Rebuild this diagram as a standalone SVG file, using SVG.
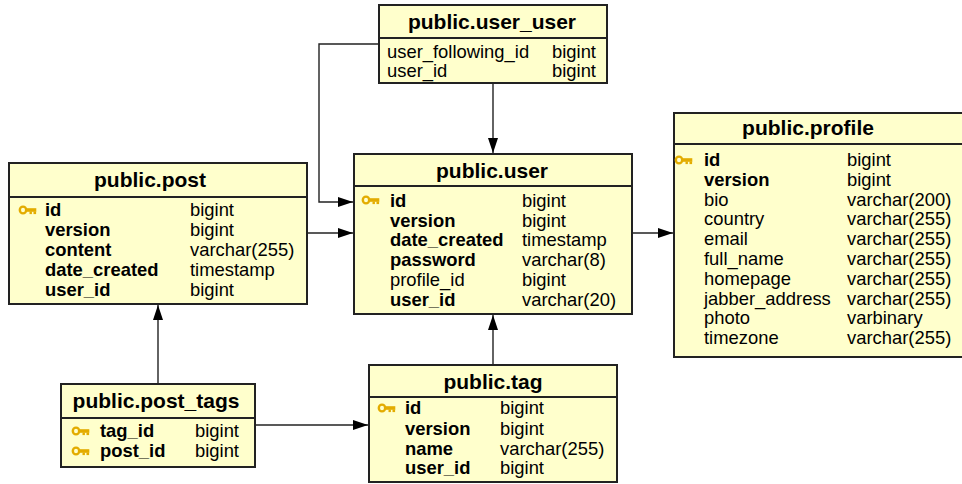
<svg xmlns="http://www.w3.org/2000/svg" xmlns:xlink="http://www.w3.org/1999/xlink" width="962" height="484" viewBox="0 0 962 484">
<style>
.box{fill:#FFFFCC;stroke:#222;stroke-width:2}
.sep{stroke:#222;stroke-width:2}
.hd{font-family:"Liberation Sans",Arial,sans-serif;font-size:21px;font-weight:bold;fill:#000;text-anchor:middle}
.b{font-family:"Liberation Sans",Arial,sans-serif;font-size:18.4px;font-weight:bold;fill:#000}
.r{font-family:"Liberation Sans",Arial,sans-serif;font-size:18.4px;fill:#000}
.cn{fill:none;stroke:#222;stroke-width:1.4}
</style>
<defs>
<marker id="arr" markerUnits="userSpaceOnUse" markerWidth="16" markerHeight="11" refX="15" refY="5" orient="auto">
<path d="M0,0 L15,5 L0,10 z" fill="#000"/>
</marker>
<g id="key">
<ellipse cx="4" cy="0" rx="3.2" ry="3.4" fill="none" stroke="#E3AC00" stroke-width="2.4"/>
<rect x="6.8" y="-1.8" width="10.5" height="3.6" fill="#E3AC00"/>
<rect x="10.5" y="1.5" width="2.4" height="2.6" fill="#E3AC00"/>
<rect x="14.5" y="1.5" width="2.6" height="2.6" fill="#E3AC00"/>
</g>
</defs>

<g id="connectors">
<path class="cn" d="M493,83 V153" marker-end="url(#arr)"/>
<path class="cn" d="M379,44 H319 V202 H353" marker-end="url(#arr)"/>
<path class="cn" d="M307,233 H353" marker-end="url(#arr)"/>
<path class="cn" d="M632,233 H673" marker-end="url(#arr)"/>
<path class="cn" d="M158,384 V305" marker-end="url(#arr)"/>
<path class="cn" d="M255,425 H368" marker-end="url(#arr)"/>
<path class="cn" d="M493,365 V315" marker-end="url(#arr)"/>
</g>

<g id="user_user">
<rect class="box" x="379" y="5" width="228" height="78"/>
<line class="sep" x1="379" y1="38" x2="607" y2="38"/>
<text class="hd" x="492" y="29">public.user_user</text>
<text class="r" x="387" y="58">user_following_id</text><text class="r" x="552" y="58">bigint</text>
<text class="r" x="387" y="77">user_id</text><text class="r" x="552" y="77">bigint</text>
</g>

<g id="user">
<rect class="box" x="354" y="154" width="278" height="160"/>
<line class="sep" x1="354" y1="186" x2="632" y2="186"/>
<text class="hd" x="492" y="178">public.user</text>
<use xlink:href="#key" x="362" y="200"/>
<text class="b" x="390" y="207">id</text><text class="r" x="522" y="207">bigint</text>
<text class="b" x="390" y="226.5">version</text><text class="r" x="522" y="226.5">bigint</text>
<text class="b" x="390" y="246">date_created</text><text class="r" x="522" y="246">timestamp</text>
<text class="b" x="390" y="266">password</text><text class="r" x="522" y="266">varchar(8)</text>
<text class="r" x="390" y="286">profile_id</text><text class="r" x="522" y="286">bigint</text>
<text class="b" x="390" y="306">user_id</text><text class="r" x="522" y="306">varchar(20)</text>
</g>

<g id="post">
<rect class="box" x="9" y="163" width="298" height="141"/>
<line class="sep" x1="9" y1="197" x2="307" y2="197"/>
<text class="hd" x="150" y="187">public.post</text>
<use xlink:href="#key" x="19" y="210"/>
<text class="b" x="45" y="216">id</text><text class="r" x="190" y="216">bigint</text>
<text class="b" x="45" y="236">version</text><text class="r" x="190" y="236">bigint</text>
<text class="b" x="45" y="256">content</text><text class="r" x="190" y="256">varchar(255)</text>
<text class="b" x="45" y="276">date_created</text><text class="r" x="190" y="276">timestamp</text>
<text class="b" x="45" y="296">user_id</text><text class="r" x="190" y="296">bigint</text>
</g>

<g id="profile">
<rect class="box" x="674" y="113" width="300" height="244"/>
<line class="sep" x1="674" y1="144" x2="974" y2="144"/>
<text class="hd" x="808" y="135">public.profile</text>
<use xlink:href="#key" x="675" y="160"/>
<text class="b" x="704" y="166">id</text><text class="r" x="847" y="166">bigint</text>
<text class="b" x="704" y="186">version</text><text class="r" x="847" y="186">bigint</text>
<text class="r" x="704" y="205.5">bio</text><text class="r" x="847" y="205.5">varchar(200)</text>
<text class="r" x="704" y="225">country</text><text class="r" x="847" y="225">varchar(255)</text>
<text class="r" x="704" y="245">email</text><text class="r" x="847" y="245">varchar(255)</text>
<text class="r" x="704" y="265">full_name</text><text class="r" x="847" y="265">varchar(255)</text>
<text class="r" x="704" y="285">homepage</text><text class="r" x="847" y="285">varchar(255)</text>
<text class="r" x="704" y="304.5">jabber_address</text><text class="r" x="847" y="304.5">varchar(255)</text>
<text class="r" x="704" y="324">photo</text><text class="r" x="847" y="324">varbinary</text>
<text class="r" x="704" y="344">timezone</text><text class="r" x="847" y="344">varchar(255)</text>
</g>

<g id="tag">
<rect class="box" x="369" y="365" width="248" height="117"/>
<line class="sep" x1="369" y1="397" x2="617" y2="397"/>
<text class="hd" x="493" y="389">public.tag</text>
<use xlink:href="#key" x="378" y="408"/>
<text class="b" x="405" y="414">id</text><text class="r" x="500" y="414">bigint</text>
<text class="b" x="405" y="435">version</text><text class="r" x="500" y="435">bigint</text>
<text class="b" x="405" y="455">name</text><text class="r" x="500" y="455">varchar(255)</text>
<text class="b" x="405" y="474">user_id</text><text class="r" x="500" y="474">bigint</text>
</g>

<g id="post_tags">
<rect class="box" x="61" y="384" width="194" height="83"/>
<line class="sep" x1="61" y1="418" x2="255" y2="418"/>
<text class="hd" x="156" y="408">public.post_tags</text>
<use xlink:href="#key" x="72" y="431"/>
<text class="b" x="100" y="437">tag_id</text><text class="r" x="195" y="437">bigint</text>
<use xlink:href="#key" x="72" y="451"/>
<text class="b" x="100" y="457">post_id</text><text class="r" x="195" y="457">bigint</text>
</g>
</svg>
